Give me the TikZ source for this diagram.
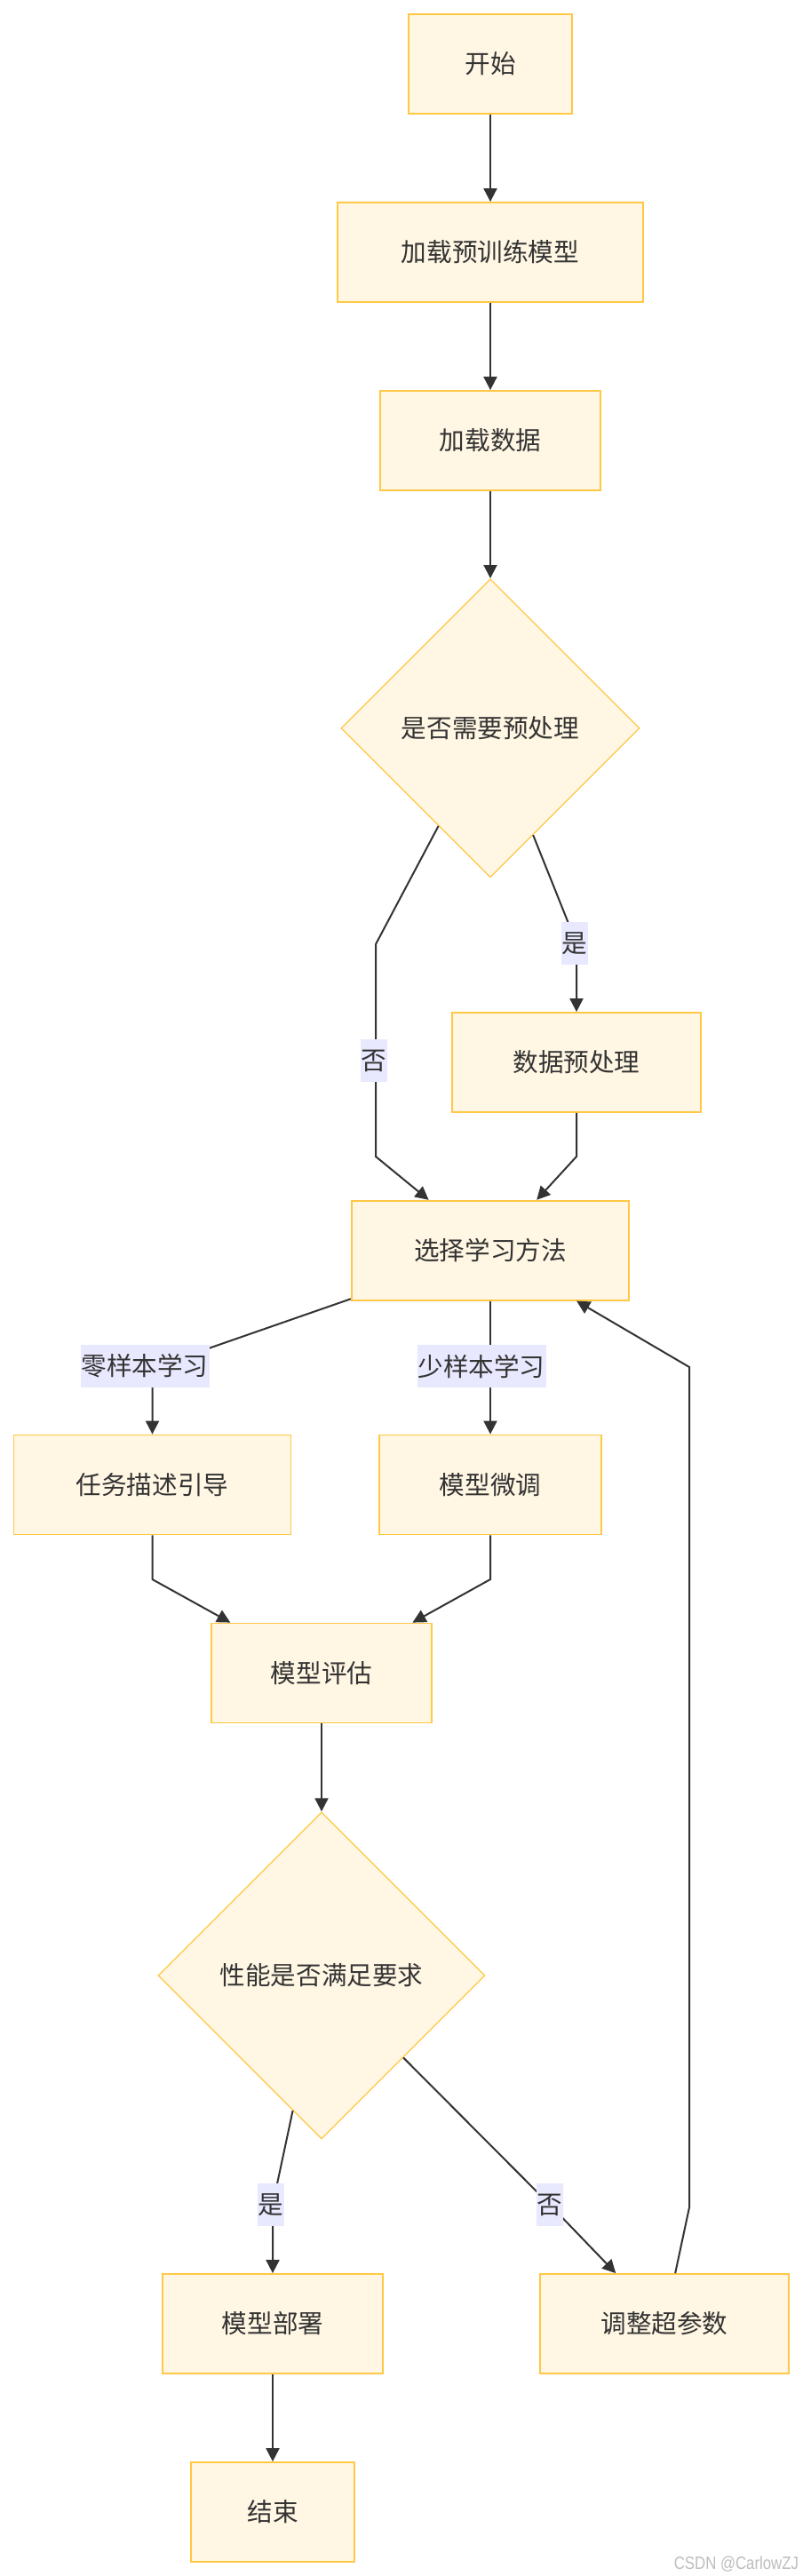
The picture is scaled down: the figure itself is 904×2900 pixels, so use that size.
\documentclass[tikz,border=0pt]{standalone}
\usepackage{fontspec}
\newfontfamily\cjk{Noto Sans CJK SC}
\setsansfont{Liberation Sans}
\usetikzlibrary{arrows.meta,shapes.geometric}
\definecolor{figcream}{HTML}{FFF6E3}
\definecolor{figgold}{HTML}{FFC845}
\definecolor{figlabel}{HTML}{E8E8FF}
\definecolor{figink}{HTML}{333333}
\definecolor{figmark}{HTML}{BDBDBD}

\begin{document}
\begin{tikzpicture}[x=0.5pt,y=-0.5pt,
  every node/.style={font=\cjk\fontsize{14.3pt}{16pt}\selectfont,text=figink},
  stepbox/.style={draw=figgold,fill=figcream,line width=0.9pt,minimum height=56pt,inner sep=0pt},
  choice/.style={diamond,aspect=1,draw=figgold,fill=figcream,line width=0.65pt,inner sep=0pt},
  flow/.style={draw=figink,line width=1pt,-{Triangle[length=7.5pt,width=7.5pt]}},
  tag/.style={fill=figlabel,inner xsep=0.5pt,inner ysep=0pt,minimum height=24pt}]
\fill[white] (0,0) rectangle (904,2900);
\useasboundingbox (0,0) rectangle (904,2900);
\node[stepbox,minimum width=92pt] (start) at (552,71.7) {开始};
\node[stepbox,minimum width=172.3pt] (loadmodel) at (552,284) {加载预训练模型};
\node[stepbox,minimum width=124pt] (loaddata) at (552,496) {加载数据};
\node[choice,minimum width=168pt,minimum height=168pt] (needprep) at (552,819.7) {是否需要预处理};
\node[stepbox,minimum width=140.3pt] (prep) at (649,1196) {数据预处理};
\node[stepbox,minimum width=156.2pt] (select) at (552,1407.7) {选择学习方法};
\node[stepbox,minimum width=156pt] (taskdesc) at (171.5,1671.5) {任务描述引导};
\node[stepbox,minimum width=125pt] (finetune) at (552,1671.5) {模型微调};
\node[stepbox,minimum width=123.7pt] (evalm) at (362,1883.5) {模型评估};
\node[choice,minimum width=184pt,minimum height=184pt] (perf) at (362,2224) {性能是否满足要求};
\node[stepbox,minimum width=124pt] (deploy) at (307,2616) {模型部署};
\node[stepbox,minimum width=140pt] (tune) at (748,2616) {调整超参数};
\node[stepbox,minimum width=92pt] (finish) at (307,2828) {结束};
% bends of the connectors
\coordinate (nobend) at (423,1063);
\coordinate (nodrop) at (423,1302);
\coordinate (yesbend) at (649,1062);
\coordinate (prepdrop) at (649,1302);
\coordinate (zerobend) at (171.5,1540);
\coordinate (taskdrop) at (171.5,1778);
\coordinate (tunedrop) at (552,1778);
\coordinate (okbend) at (307,2482);
\coordinate (failbend) at (619,2482);
\coordinate (backlow) at (776,2485);
\coordinate (backhigh) at (776,1539);
\draw[flow] (start) -- (loadmodel);
\draw[flow] (loadmodel) -- (loaddata);
\draw[flow] (loaddata) -- (needprep);
\draw[flow] (needprep) -- (nobend) -- (nodrop) -- (select);
\draw[flow] (needprep) -- (yesbend) -- (prep);
\draw[flow] (prep) -- (prepdrop) -- (select);
\draw[flow] (select) -- (zerobend) -- (taskdesc);
\draw[flow] (select) -- (finetune);
\draw[flow] (taskdesc) -- (taskdrop) -- (evalm);
\draw[flow] (finetune) -- (tunedrop) -- (evalm);
\draw[flow] (evalm) -- (perf);
\draw[flow] (perf) -- (okbend) -- (deploy);
\draw[flow] (perf) -- (failbend) -- (tune);
\draw[flow] (tune) -- (backlow) -- (backhigh) -- (select);
\draw[flow] (deploy) -- (finish);
% edge labels
\node[tag] (nolabel) at (421,1194) {否};
\node[tag] (yeslabel) at (647,1062) {是};
\node[tag] (zerolabel) at (163,1538) {零样本学习};
\node[tag] (fewlabel) at (542,1538) {少样本学习};
\node[tag] (oklabel) at (305,2482) {是};
\node[tag] (faillabel) at (619,2482) {否};
\node[font=\sffamily\fontsize{10pt}{12pt}\selectfont,text=figmark,anchor=base east,xscale=0.84,transform shape] (mark) at (905,2892) {CSDN @CarlowZJ};
\end{tikzpicture}
\end{document}
